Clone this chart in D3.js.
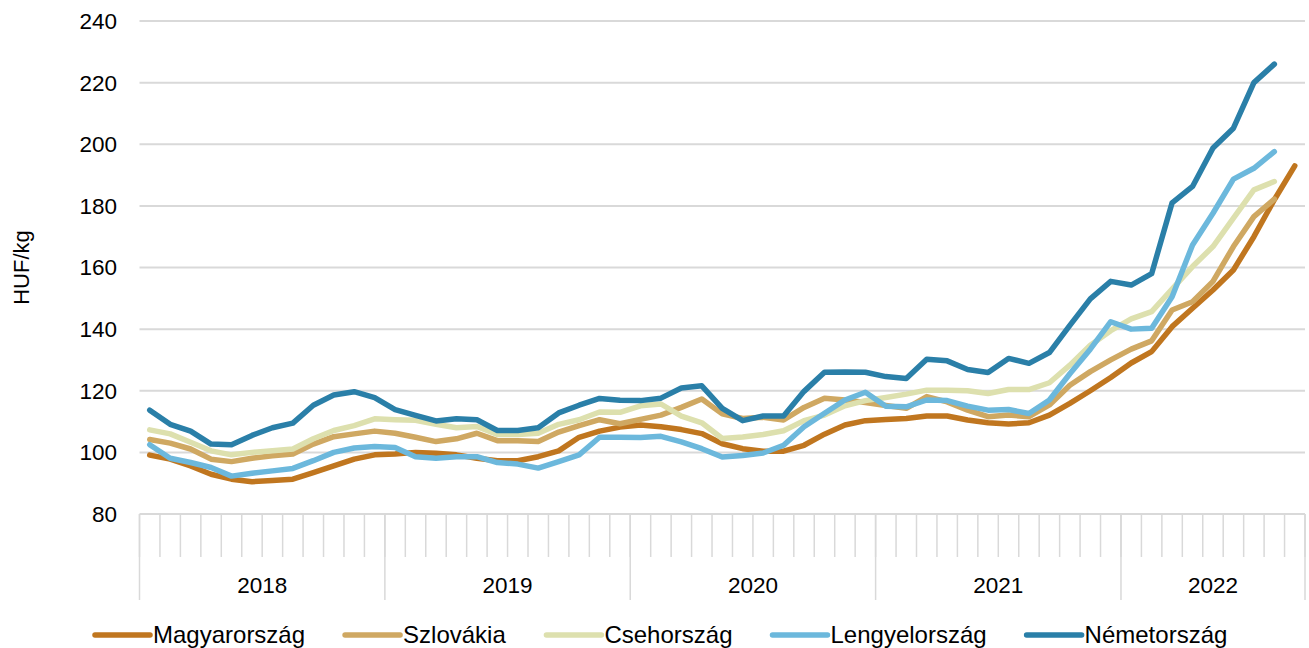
<!DOCTYPE html>
<html>
<head>
<meta charset="utf-8">
<script src="https://cdn.jsdelivr.net/npm/d3@7"></script>
<style>
  body { margin: 0; background: #fff; }
  text { font-family: Arial, "Liberation Sans", sans-serif; fill: #000; }
</style>
</head>
<body>
<svg width="1309" height="648"></svg>
<script>
// years on the category axis and how many months each one has
var years = ['2018', '2019', '2020', '2021', '2022'];
var monthsPerYear = [12, 12, 12, 12, 9];
var yTicks = [80, 100, 120, 140, 160, 180, 200, 220, 240];

var seriesNames = ['Magyarország', 'Szlovákia', 'Csehország', 'Lengyelország', 'Németország'];
var seriesColors = ['#C0761F', '#CFA862', '#DDE0AE', '#6CB8DC', '#2A7FA8'];

// monthly prices, HUF/kg (Jan 2018 - Sep 2022)
var magyarorszag = [99.1, 97.8, 95.6, 92.9, 91.3, 90.5, 90.9, 91.3, 93.4, 95.6, 97.8, 99.2,
    99.5, 100, 99.7, 99.2, 98.1, 97.3, 97.3, 98.6, 100.5, 104.9, 106.9, 108.2,
    108.9, 108.3, 107.4, 106.1, 102.8, 101.2, 100.4, 100.4, 102.3, 105.9, 108.9, 110.3,
    110.7, 111, 111.8, 111.8, 110.5, 109.6, 109.2, 109.6, 112.1, 115.9, 120, 124.3,
    129, 132.7, 140.8, 146.8, 152.7, 159.2, 170, 182, 193];
var szlovakia = [104.2, 103, 101.1, 97.8, 97, 98.1, 98.9, 99.5, 102.7, 105.1, 106, 106.9,
    106.2, 104.9, 103.5, 104.4, 106.2, 103.8, 103.8, 103.5, 106.6, 108.7, 110.6, 109.3,
    110.7, 112.1, 114.6, 117.3, 112.5, 111, 111.4, 110.5, 114.6, 117.6, 117, 116.2,
    115.2, 114.3, 118.1, 116.4, 113.7, 111.6, 112.1, 111.6, 115.4, 121.8, 126.2, 130,
    133.5, 136.2, 146.2, 148.9, 155.5, 166.8, 176.5, 182.2, null];
var csehorszag = [107.3, 106, 103.3, 100.5, 99.2, 100, 100.5, 101.1, 104.4, 107.1, 108.7, 110.9,
    110.6, 110.4, 109.1, 108, 108.4, 105.8, 105.8, 106.2, 109.1, 110.6, 113.1, 113,
    115.1, 115.7, 111.8, 109.6, 104.5, 105, 105.8, 107, 110.3, 112.1, 115.1, 116.8,
    117.8, 118.9, 120.2, 120.2, 120, 119.1, 120.4, 120.4, 122.6, 128.3, 134.8, 139.5,
    143.3, 145.7, 153, 160.3, 166.8, 176, 185.2, 187.9, null];
var lengyelorszag = [102.5, 98.1, 96.7, 95.1, 92.3, 93.2, 94, 94.8, 97.3, 100, 101.4, 101.9,
    101.6, 98.6, 98.1, 98.6, 98.6, 96.7, 96.2, 94.9, 97, 99.2, 104.9, 104.9,
    104.8, 105.2, 103.4, 101.2, 98.5, 99, 99.8, 102.3, 108.3, 112.7, 117, 119.5,
    115, 114.8, 117, 116.8, 115, 113.7, 113.9, 112.6, 117, 125.5, 133.5, 142.4,
    140, 140.3, 150.5, 167.3, 177.6, 188.7, 192.2, 197.6, null];
var nemetorszag = [113.7, 109.1, 106.9, 102.7, 102.5, 105.5, 108, 109.5, 115.3, 118.6, 119.7, 117.8,
    113.9, 112, 110.2, 110.9, 110.6, 107.1, 107.1, 108, 112.8, 115.3, 117.5, 116.9,
    116.8, 117.6, 120.9, 121.6, 114.3, 110.3, 111.8, 111.8, 119.8, 126, 126.1, 126,
    124.6, 124, 130.2, 129.7, 126.9, 125.9, 130.5, 128.9, 132.4, 141.2, 149.8, 155.5,
    154.3, 158, 181, 186.3, 198.8, 205.2, 220, 226, null];

var seriesValues = [magyarorszag, szlovakia, csehorszag, lengyelorszag, nemetorszag];

// build month keys like 2018-1
var months = [];
years.forEach(function(y, i) {
    for (var m = 1; m <= monthsPerYear[i]; m++) months.push(y + '-' + m);
});

var svg = d3.select('svg');
var plot = {l: 139.5, r: 1305, t: 21, b: 514};
var gridColor = '#d9d9d9';

var x = d3.scaleBand().domain(months).range([plot.l, plot.r]).padding(0);
var y = d3.scaleLinear().domain([80, 240]).range([plot.b, plot.t]);

// horizontal gridlines
svg.append('g').selectAll('line')
    .data(yTicks)
    .enter().append('line')
    .attr('x1', plot.l).attr('x2', plot.r)
    .attr('y1', function(d) { return y(d); })
    .attr('y2', function(d) { return y(d); })
    .attr('stroke', gridColor).attr('stroke-width', 2);

// y tick labels
svg.append('g').selectAll('text')
    .data(yTicks)
    .enter().append('text')
    .attr('x', 117)
    .attr('y', function(d) { return y(d); })
    .attr('dy', '0.35em')
    .attr('text-anchor', 'end')
    .style('font-size', '22.5px')
    .text(function(d) { return d; });

svg.append('text')
    .attr('transform', 'translate(' + [29, (plot.t + plot.b) / 2] + ') rotate(-90)')
    .attr('text-anchor', 'middle')
    .style('font-size', '22px')
    .text('HUF/kg');

// month ticks and year boundaries
var xAxisG = svg.append('g');
var monthEdges = months.map(function(m) { return x(m); }).concat([plot.r]);
var yearStarts = [];
var acc = 0;
monthsPerYear.forEach(function(n) { yearStarts.push(acc); acc += n; });
yearStarts.push(acc);

xAxisG.selectAll('line.minor')
    .data(monthEdges)
    .enter().append('line')
    .attr('class', 'minor')
    .attr('x1', function(d) { return d; }).attr('x2', function(d) { return d; })
    .attr('y1', plot.b).attr('y2', 557)
    .attr('stroke', gridColor).attr('stroke-width', 1.5);

xAxisG.selectAll('line.major')
    .data(yearStarts)
    .enter().append('line')
    .attr('class', 'major')
    .attr('x1', function(i) { return monthEdges[i]; }).attr('x2', function(i) { return monthEdges[i]; })
    .attr('y1', plot.b).attr('y2', 600)
    .attr('stroke', gridColor).attr('stroke-width', 1.5);

xAxisG.selectAll('text')
    .data(years)
    .enter().append('text')
    .attr('x', function(d, i) { return (monthEdges[yearStarts[i]] + monthEdges[yearStarts[i + 1]]) / 2; })
    .attr('y', 585)
    .attr('dy', '0.35em')
    .attr('text-anchor', 'middle')
    .style('font-size', '22.5px')
    .text(function(d) { return d; });

// series lines
var line = d3.line()
    .defined(function(d) { return d != null; })
    .x(function(d, i) { return x(months[i]) + x.bandwidth() / 2; })
    .y(function(d) { return y(d); });

svg.append('g').selectAll('path')
    .data(seriesValues)
    .enter().append('path')
    .attr('d', line)
    .attr('fill', 'none')
    .attr('stroke', function(d, i) { return seriesColors[i]; })
    .attr('stroke-width', 5.5)
    .attr('stroke-linejoin', 'round')
    .attr('stroke-linecap', 'round');

// legend
var legendG = svg.append('g');
var items = legendG.selectAll('g')
    .data(seriesNames)
    .enter().append('g');
items.append('line')
    .attr('x1', 0).attr('x2', 55)
    .attr('y1', 0).attr('y2', 0)
    .attr('stroke', function(d, i) { return seriesColors[i]; })
    .attr('stroke-width', 5.5)
    .attr('stroke-linecap', 'round');
items.append('text')
    .attr('x', 58)
    .attr('dy', '0.35em')
    .style('font-size', '24px')
    .text(function(d) { return d; });

var pos = 0;
var offsets = [];
items.each(function() {
    offsets.push(pos);
    pos += this.getBBox().width + 40;
});
var startX = 95;
items.attr('transform', function(d, i) { return 'translate(' + [startX + offsets[i], 635] + ')'; });
</script>
</body>
</html>
